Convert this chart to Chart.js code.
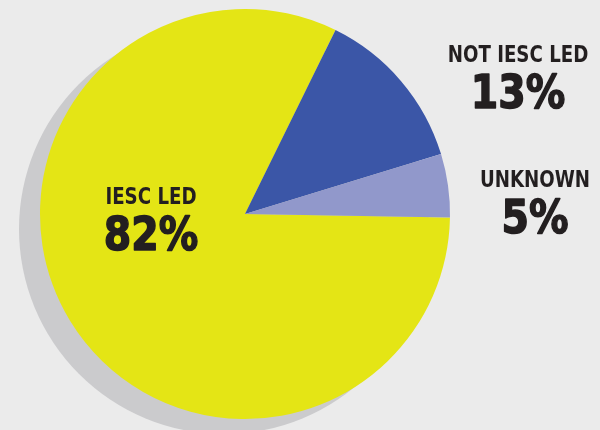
<!DOCTYPE html>
<html>
<head>
<meta charset="utf-8">
<script src="https://cdn.jsdelivr.net/npm/chart.js@4"></script>
<style>
  html, body { margin: 0; padding: 0; background: #ebebeb; }
  #wrap { position: relative; width: 600px; height: 430px; }
</style>
</head>
<body>
<div id="wrap"><canvas id="ledChart"></canvas></div>
<script>
// Share of projects by who led them
const categories = ['IESC LED', 'NOT IESC LED', 'UNKNOWN'];
const shares = [82, 13, 5];
const sliceColors = ['#e4e515', '#3b56a7', '#9198cb'];

// Grey disc drawn under the pie, pushed down and to the left
const dropShadow = {
  id: 'dropShadow',
  beforeDatasetsDraw(chart) {
    const arc = chart.getDatasetMeta(0).data[0];
    if (!arc) return;
    const { ctx } = chart;
    ctx.save();
    ctx.fillStyle = '#cbcbcd';
    ctx.beginPath();
    ctx.arc(arc.x - 21, arc.y + 15, arc.outerRadius, 0, Math.PI * 2);
    ctx.fill();
    ctx.restore();
  }
};

// centred text squeezed horizontally to get a condensed look;
// an optional outline makes it look heavier
function squeezedText(ctx, text, x, y, font, sx, weight) {
  ctx.save();
  ctx.font = font;
  ctx.translate(x, y);
  ctx.scale(sx, 1);
  ctx.fillText(text, 0, 0);
  if (weight) {
    ctx.lineWidth = weight;
    ctx.lineJoin = 'round';
    ctx.strokeStyle = ctx.fillStyle;
    ctx.strokeText(text, 0, 0);
  }
  ctx.restore();
}

// Category name + big percentage for each slice
const sliceLabels = {
  id: 'sliceLabels',
  afterDatasetsDraw(chart) {
    const { ctx } = chart;
    const spots = [
      { x: 151, y: 204 },
      { x: 518, y: 62 },
      { x: 535, y: 187 }
    ];
    ctx.save();
    ctx.fillStyle = '#231f20';
    ctx.textAlign = 'center';
    ctx.textBaseline = 'alphabetic';
    categories.forEach((name, i) => {
      const p = spots[i];
      squeezedText(ctx, name, p.x, p.y, 'bold 23px "DejaVu Sans Condensed"', 0.88);
      squeezedText(ctx, shares[i] + '%', p.x, p.y + 46, 'bold 47px "DejaVu Sans"', 0.84, 1.6);
    });
    ctx.restore();
  }
};

const ctx = document.getElementById('ledChart').getContext('2d');
const ledChart = new Chart(ctx, {
  type: 'pie',
  data: {
    labels: categories,
    datasets: [{
      data: shares,
      backgroundColor: sliceColors,
      borderWidth: 0
    }]
  },
  options: {
    responsive: true,
    maintainAspectRatio: false,
    animation: false,
    rotation: 91,
    layout: {
      padding: { left: 40, right: 150, top: 9, bottom: 11 }
    },
    plugins: {
      legend: { display: false },
      tooltip: { enabled: false }
    }
  },
  plugins: [dropShadow, sliceLabels]
});
</script>
</body>
</html>
